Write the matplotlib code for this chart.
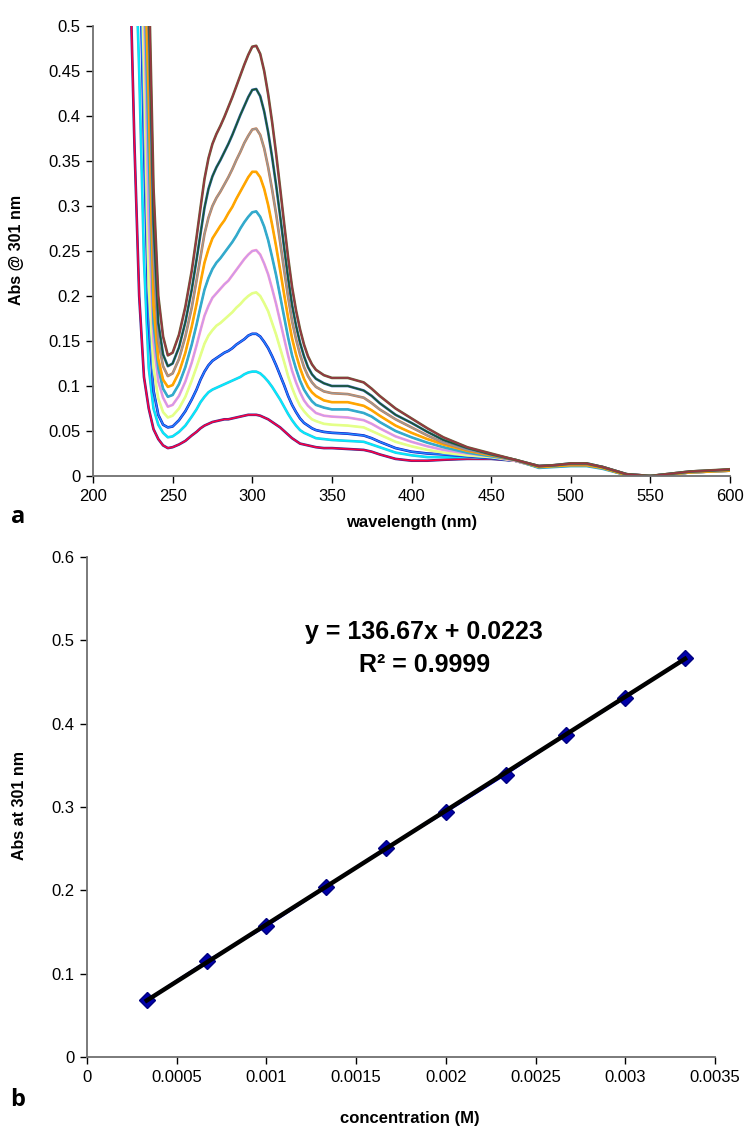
import matplotlib
matplotlib.use('Agg')
import matplotlib.pyplot as plt

plt.rcParams['font.family'] = ['Liberation Sans', 'DejaVu Sans']

# --- panel a: UV-vis spectra ---
wavelength = [220, 223, 226, 229, 232, 235, 238, 241, 244, 247,
              250, 254, 258, 262,
              265, 267.5, 270, 272.5, 275, 277.5, 280, 282.5, 285, 287.5,
              290, 292.5, 295, 297.5, 300, 302.5, 305, 307.5, 310, 312.5,
              315, 317.5, 320, 322.5, 325, 327.5, 330, 332.5, 335, 337.5,
              340,
              345, 350, 360, 370, 375, 380, 390, 400, 410, 420, 435, 450, 465,
              480, 490, 500, 510, 520, 535, 550, 575, 600]

abs_1 = [0.80, 0.58, 0.37, 0.20, 0.11, 0.075, 0.052, 0.041, 0.034, 0.031,
         0.032, 0.035, 0.039, 0.045,
         0.049, 0.053, 0.056, 0.058, 0.060, 0.061, 0.062, 0.063, 0.063, 0.064,
         0.065, 0.066, 0.067, 0.068, 0.068, 0.068, 0.067, 0.065, 0.063, 0.060,
         0.057, 0.054, 0.050, 0.046, 0.042, 0.039, 0.036, 0.035, 0.034, 0.033,
         0.032,
         0.031, 0.031, 0.030, 0.029, 0.027, 0.024, 0.019, 0.017, 0.017, 0.018, 0.019, 0.019, 0.017,
         0.011, 0.012, 0.013, 0.013, 0.010, 0.002, 0.000, 0.004, 0.007]
abs_2 = [1.10, 0.85, 0.62, 0.45, 0.24, 0.12, 0.075, 0.057, 0.048, 0.043,
         0.044, 0.049, 0.056, 0.066,
         0.074, 0.082, 0.088, 0.093, 0.096, 0.098, 0.100, 0.102, 0.104, 0.106,
         0.108, 0.110, 0.113, 0.115, 0.116, 0.116, 0.114, 0.110, 0.105, 0.099,
         0.092, 0.085, 0.077, 0.069, 0.062, 0.056, 0.051, 0.048, 0.046, 0.044,
         0.042,
         0.041, 0.040, 0.039, 0.038, 0.035, 0.032, 0.026, 0.023, 0.021, 0.021, 0.021, 0.020, 0.017,
         0.010, 0.011, 0.012, 0.012, 0.009, 0.001, 0.000, 0.004, 0.006]
abs_3 = [1.30, 1.00, 0.80, 0.62, 0.37, 0.17, 0.095, 0.068, 0.057, 0.054,
         0.055, 0.062, 0.072, 0.085,
         0.096, 0.107, 0.116, 0.123, 0.128, 0.131, 0.134, 0.137, 0.139, 0.142,
         0.146, 0.149, 0.152, 0.156, 0.158, 0.158, 0.155, 0.149, 0.142, 0.133,
         0.123, 0.112, 0.101, 0.089, 0.079, 0.071, 0.064, 0.059, 0.056, 0.053,
         0.051,
         0.049, 0.048, 0.047, 0.045, 0.042, 0.038, 0.031, 0.027, 0.025, 0.024, 0.022, 0.020, 0.017,
         0.010, 0.011, 0.012, 0.012, 0.009, 0.001, 0.000, 0.004, 0.006]
abs_4 = [1.40, 1.10, 0.86, 0.68, 0.45, 0.21, 0.12, 0.086, 0.071, 0.065,
         0.067, 0.075, 0.088, 0.106,
         0.121, 0.134, 0.147, 0.156, 0.162, 0.167, 0.170, 0.174, 0.178, 0.182,
         0.187, 0.191, 0.196, 0.200, 0.203, 0.204, 0.200, 0.192, 0.183, 0.170,
         0.157, 0.142, 0.127, 0.111, 0.098, 0.087, 0.078, 0.072, 0.067, 0.063,
         0.061,
         0.058, 0.057, 0.056, 0.054, 0.050, 0.046, 0.038, 0.033, 0.029, 0.026, 0.023, 0.021, 0.017,
         0.010, 0.011, 0.012, 0.012, 0.009, 0.001, 0.000, 0.004, 0.006]
abs_5 = [1.50, 1.15, 0.90, 0.72, 0.53, 0.28, 0.15, 0.105, 0.087, 0.077,
         0.079, 0.089, 0.105, 0.126,
         0.145, 0.162, 0.178, 0.189, 0.198, 0.203, 0.208, 0.213, 0.217, 0.223,
         0.229, 0.235, 0.241, 0.246, 0.250, 0.251, 0.246, 0.236, 0.224, 0.208,
         0.191, 0.172, 0.153, 0.134, 0.117, 0.104, 0.093, 0.084, 0.078, 0.074,
         0.070,
         0.067, 0.066, 0.065, 0.062, 0.058, 0.053, 0.044, 0.038, 0.033, 0.029, 0.025, 0.022, 0.017,
         0.010, 0.011, 0.012, 0.012, 0.009, 0.001, 0.000, 0.004, 0.006]
abs_6 = [1.55, 1.20, 0.95, 0.76, 0.58, 0.36, 0.17, 0.12, 0.097, 0.088,
         0.090, 0.102, 0.121, 0.146,
         0.168, 0.188, 0.207, 0.220, 0.230, 0.237, 0.242, 0.248, 0.254, 0.260,
         0.267, 0.275, 0.282, 0.288, 0.293, 0.294, 0.288, 0.277, 0.262, 0.243,
         0.223, 0.200, 0.177, 0.154, 0.134, 0.119, 0.106, 0.096, 0.089, 0.083,
         0.079,
         0.076, 0.074, 0.074, 0.070, 0.066, 0.060, 0.050, 0.043, 0.037, 0.032, 0.026, 0.022, 0.018,
         0.009, 0.010, 0.011, 0.011, 0.008, 0.001, 0.000, 0.004, 0.006]
abs_7 = [1.60, 1.20, 0.97, 0.78, 0.60, 0.42, 0.19, 0.13, 0.107, 0.099,
         0.101, 0.115, 0.137, 0.166,
         0.191, 0.215, 0.237, 0.252, 0.264, 0.271, 0.278, 0.284, 0.292, 0.299,
         0.308, 0.316, 0.324, 0.332, 0.338, 0.338, 0.332, 0.319, 0.301, 0.279,
         0.255, 0.229, 0.202, 0.176, 0.153, 0.135, 0.120, 0.108, 0.099, 0.093,
         0.089,
         0.084, 0.082, 0.082, 0.078, 0.073, 0.067, 0.056, 0.048, 0.041, 0.035, 0.028, 0.023, 0.018,
         0.010, 0.011, 0.012, 0.012, 0.009, 0.001, 0.000, 0.004, 0.006]
abs_8 = [1.60, 1.25, 1.00, 0.80, 0.64, 0.49, 0.24, 0.15, 0.122, 0.111,
         0.114, 0.130, 0.155, 0.187,
         0.217, 0.243, 0.269, 0.287, 0.300, 0.309, 0.316, 0.324, 0.332, 0.341,
         0.351, 0.360, 0.370, 0.378, 0.385, 0.386, 0.379, 0.364, 0.343, 0.318,
         0.291, 0.260, 0.229, 0.199, 0.172, 0.152, 0.135, 0.121, 0.111, 0.104,
         0.099,
         0.094, 0.092, 0.091, 0.087, 0.081, 0.074, 0.063, 0.054, 0.045, 0.037, 0.029, 0.024, 0.018,
         0.011, 0.012, 0.013, 0.013, 0.010, 0.002, 0.000, 0.005, 0.007]
abs_9 = [1.60, 1.25, 1.00, 0.82, 0.66, 0.52, 0.28, 0.17, 0.135, 0.122,
         0.125, 0.143, 0.171, 0.207,
         0.240, 0.269, 0.298, 0.319, 0.333, 0.343, 0.351, 0.360, 0.369, 0.379,
         0.390, 0.401, 0.411, 0.421, 0.429, 0.430, 0.422, 0.405, 0.382, 0.354,
         0.323, 0.289, 0.254, 0.220, 0.190, 0.167, 0.148, 0.133, 0.121, 0.113,
         0.108,
         0.103, 0.100, 0.100, 0.095, 0.089, 0.081, 0.068, 0.059, 0.049, 0.040, 0.031, 0.024, 0.018,
         0.011, 0.012, 0.014, 0.014, 0.010, 0.002, 0.000, 0.005, 0.007]
abs_10 = [1.60, 1.30, 1.05, 0.84, 0.68, 0.56, 0.32, 0.20, 0.155, 0.134,
          0.137, 0.157, 0.188, 0.228,
          0.265, 0.298, 0.330, 0.353, 0.369, 0.380, 0.389, 0.399, 0.410, 0.421,
          0.433, 0.445, 0.457, 0.468, 0.477, 0.478, 0.469, 0.450, 0.424, 0.393,
          0.358, 0.320, 0.281, 0.243, 0.210, 0.184, 0.163, 0.146, 0.133, 0.124,
          0.118,
          0.112, 0.109, 0.109, 0.104, 0.097, 0.089, 0.075, 0.064, 0.053, 0.043, 0.032, 0.025, 0.018,
          0.011, 0.012, 0.014, 0.014, 0.010, 0.002, 0.000, 0.005, 0.0075]

spectra = [abs_1, abs_2, abs_3, abs_4, abs_5, abs_6, abs_7, abs_8, abs_9, abs_10]
# each spectrum drawn as (under colour, over colour) - duplicate runs overlap in the original
spectrum_colors = [('#3a2a90', '#ff0040'), ('#33bbdd', '#00eeff'), ('#1010c0', '#2288ff'),
                   ('#e4ff88', '#e4ff88'), ('#ff99cc', '#cc99ee'), ('#33aacc', '#33aacc'),
                   ('#ffa500', '#ffa500'), ('#cc7744', '#999999'), ('#3366aa', '#1a5530'),
                   ('#666633', '#993344')]

wl_ticks = [200, 250, 300, 350, 400, 450, 500, 550, 600]
abs_ticks = [0, 0.05, 0.1, 0.15, 0.2, 0.25, 0.3, 0.35, 0.4, 0.45, 0.5]
abs_tick_labels = ['0', '0.05', '0.1', '0.15', '0.2', '0.25', '0.3', '0.35', '0.4', '0.45', '0.5']

# --- panel b: calibration ---
conc = [0.000333, 0.000667, 0.001, 0.001333, 0.001667, 0.002, 0.002333, 0.002667, 0.003, 0.003333]
abs_301 = [0.068, 0.115, 0.157, 0.204, 0.251, 0.294, 0.339, 0.387, 0.431, 0.479]
slope = 136.67
intercept = 0.0223
conc_ticks = [0, 0.0005, 0.001, 0.0015, 0.002, 0.0025, 0.003, 0.0035]
conc_tick_labels = ['0', '0.0005', '0.001', '0.0015', '0.002', '0.0025', '0.003', '0.0035']
b_ticks = [0, 0.1, 0.2, 0.3, 0.4, 0.5, 0.6]
b_tick_labels = ['0', '0.1', '0.2', '0.3', '0.4', '0.5', '0.6']

W, H = 751, 1131
fig = plt.figure(figsize=(W / 100, H / 100), dpi=100)

spine_col = '#707070'

# top panel
ax1 = fig.add_axes([93 / W, 1 - 476 / H, (730 - 93) / W, (476 - 26) / H])
for (under, over), spec in zip(spectrum_colors, spectra):
    ax1.plot(wavelength, spec, color=under, lw=1.9, solid_joinstyle='round')
    ax1.plot(wavelength, spec, color=over, lw=1.1, solid_joinstyle='round')
ax1.set_xlim(200, 600)
ax1.set_ylim(0, 0.5)
ax1.set_xticks(wl_ticks)
ax1.set_yticks(abs_ticks)
ax1.set_yticklabels(abs_tick_labels)

# bottom panel
ax2 = fig.add_axes([87 / W, 1 - 1057 / H, (715 - 87) / W, (1057 - 557) / H])
ax2.plot(conc, abs_301, color='#0000ff', lw=1.6, marker='D', markersize=8,
         markerfacecolor='#0000aa', markeredgecolor='#000080', zorder=2)
fit_x = [conc[0], conc[-1]]
ax2.plot(fit_x, [slope * x + intercept for x in fit_x], color='black', lw=3.2, zorder=3)
ax2.set_xlim(0, 0.0035)
ax2.set_ylim(0, 0.6)
ax2.set_xticks(conc_ticks)
ax2.set_xticklabels(conc_tick_labels)
ax2.set_yticks(b_ticks)
ax2.set_yticklabels(b_tick_labels)
ax2.text(0.00188, 0.51, 'y = 136.67x + 0.0223', ha='center', va='center',
         fontsize=18, fontweight='bold')
ax2.text(0.00188, 0.471, 'R² = 0.9999', ha='center', va='center',
         fontsize=18, fontweight='bold')

for ax in (ax1, ax2):
    ax.spines['top'].set_visible(False)
    ax.spines['right'].set_visible(False)
    ax.spines['left'].set_color(spine_col)
    ax.spines['bottom'].set_color(spine_col)
    ax.spines['left'].set_linewidth(1.3)
    ax.spines['bottom'].set_linewidth(1.3)
    ax.tick_params(direction='out', length=5, width=1.0, color='black',
                   labelsize=12, pad=4)

fig.text(17 / W, 1 - 250 / H, 'Abs @ 301 nm', rotation=90, ha='center', va='center',
         fontsize=11.5, fontweight='bold')
fig.text(412 / W, 1 - 522 / H, 'wavelength (nm)', ha='center', va='center',
         fontsize=12, fontweight='bold')
fig.text(20 / W, 1 - 805 / H, 'Abs at 301 nm', rotation=90, ha='center', va='center',
         fontsize=11.5, fontweight='bold')
fig.text(410 / W, 1 - 1118 / H, 'concentration (M)', ha='center', va='center',
         fontsize=12, fontweight='bold')
fig.text(18 / W, 1 - 517 / H, 'a', ha='center', va='center', fontsize=17,
         fontweight='bold', family=['Open Sans', 'DejaVu Sans'])
fig.text(18 / W, 1 - 1100 / H, 'b', ha='center', va='center', fontsize=17,
         fontweight='bold', family=['Open Sans', 'DejaVu Sans'])

fig.savefig('out.png', dpi=100)
